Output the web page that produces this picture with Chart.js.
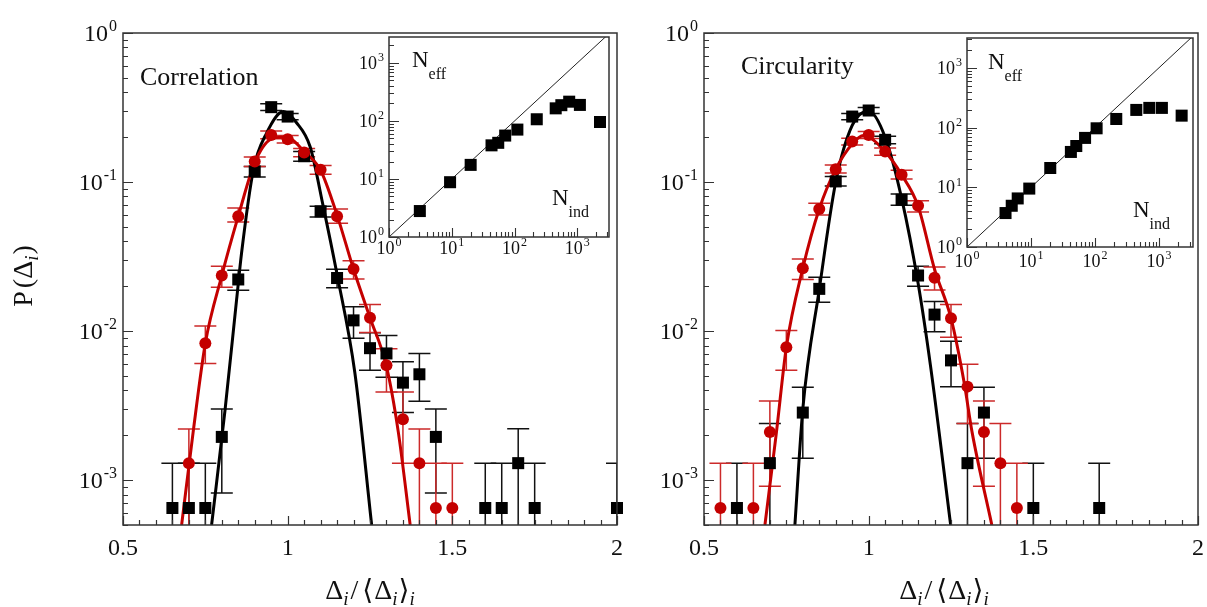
<!DOCTYPE html>
<html>
<head>
<meta charset="utf-8">
<title>P(Δi) distributions</title>
<script src="https://cdn.jsdelivr.net/npm/chart.js@4.4.1/dist/chart.umd.min.js"></script>
<style>
  body { margin: 0; background: #fff; }
  #wrap { position: relative; width: 1207px; height: 607px; overflow: hidden; }
  #wrap canvas { position: absolute; top: 0; }
</style>
</head>
<body>
<div id="wrap">
  <canvas id="mainLeft" width="640" height="607" style="left:0"></canvas>
  <canvas id="mainRight" width="567" height="607" style="left:640px"></canvas>
  <canvas id="insetLeft" width="280" height="290" style="left:340px"></canvas>
  <canvas id="insetRight" width="287" height="300" style="left:920px"></canvas>
</div>
<script>
// ---- values ----

// Correlation panel, black squares
const corrBlackX  = [0.65, 0.70, 0.75, 0.80, 0.85, 0.90, 0.95, 1.00, 1.05, 1.10, 1.15, 1.20, 1.25, 1.30, 1.35, 1.40, 1.45, 1.60, 1.65, 1.70, 1.75, 2.00];
const corrBlackY  = [0.00065, 0.00065, 0.00065, 0.00195, 0.0222, 0.118, 0.318, 0.275, 0.149, 0.0636, 0.0227, 0.0118, 0.00768, 0.00708, 0.00451, 0.00513, 0.00195, 0.00065, 0.00065, 0.0013, 0.00065, 0.00065];
const corrBlackLo = [0, 0, 0, 0.00082, 0.0188, 0.108, 0.302, 0.262, 0.138, 0.0583, 0.0195, 0.00896, 0.00547, 0.0049, 0.00284, 0.00338, 0.00082, 0, 0, 0.00038, 0, 0];
const corrBlackHi = [0.0013, 0.0013, 0.0013, 0.0030, 0.0256, 0.127, 0.335, 0.288, 0.16, 0.0687, 0.026, 0.01455, 0.00975, 0.00934, 0.00622, 0.00708, 0.0030, 0.0013, 0.0013, 0.00221, 0.0013, 0.0013];

// Correlation panel, red circles
const corrRedX  = [0.70, 0.75, 0.80, 0.85, 0.90, 0.95, 1.00, 1.05, 1.10, 1.15, 1.20, 1.25, 1.30, 1.35, 1.40, 1.45, 1.50];
const corrRedY  = [0.0013, 0.0083, 0.0236, 0.059, 0.1375, 0.207, 0.194, 0.158, 0.121, 0.059, 0.0261, 0.0123, 0.0059, 0.00256, 0.0013, 0.00065, 0.00065];
const corrRedLo = [0.00038, 0.00607, 0.0197, 0.054, 0.127, 0.195, 0.183, 0.148, 0.113, 0.053, 0.0224, 0.0098, 0.0039, 0.0013, 0.00038, 0, 0];
const corrRedHi = [0.0022, 0.0108, 0.0272, 0.067, 0.147, 0.22, 0.205, 0.168, 0.129, 0.066, 0.0297, 0.0151, 0.0076, 0.0039, 0.0022, 0.0013, 0.0013];

// Correlation panel, fitted curves (points picked along the drawn lines)
const corrBlackFitX = [0.769, 0.81, 0.845, 0.86, 0.896, 0.936, 0.987, 1.027, 1.068, 1.108, 1.149, 1.204, 1.255];
const corrBlackFitY = [0.0005, 0.00298, 0.0163, 0.0334, 0.121, 0.213, 0.297, 0.25, 0.173, 0.0687, 0.0246, 0.00526, 0.0005];
const corrRedFitX = [0.678, 0.713, 0.75, 0.80, 0.85, 0.90, 0.95, 0.98, 1.01, 1.05, 1.10, 1.15, 1.20, 1.25, 1.30, 1.336, 1.372];
const corrRedFitY = [0.0005, 0.0021, 0.0083, 0.0236, 0.059, 0.135, 0.195, 0.20, 0.195, 0.16, 0.12, 0.06, 0.026, 0.0123, 0.0058, 0.0021, 0.0005];

// Circularity panel, black squares
const circBlackX  = [0.60, 0.70, 0.80, 0.85, 0.90, 0.95, 1.00, 1.05, 1.10, 1.15, 1.20, 1.25, 1.30, 1.35, 1.50, 1.70];
const circBlackY  = [0.00065, 0.0013, 0.00284, 0.0192, 0.101, 0.275, 0.302, 0.192, 0.0761, 0.0236, 0.0129, 0.00636, 0.0013, 0.00284, 0.00065, 0.00065];
const circBlackLo = [0, 0.00038, 0.0014, 0.0156, 0.094, 0.262, 0.288, 0.181, 0.070, 0.020, 0.0099, 0.00424, 0.00038, 0.0014, 0, 0];
const circBlackHi = [0.0013, 0.0024, 0.0042, 0.023, 0.109, 0.288, 0.316, 0.203, 0.083, 0.0272, 0.0158, 0.00855, 0.0024, 0.0042, 0.0013, 0.0013];

// Circularity panel, red circles
const circRedX  = [0.55, 0.65, 0.70, 0.75, 0.80, 0.85, 0.90, 0.95, 1.00, 1.05, 1.10, 1.15, 1.20, 1.25, 1.30, 1.35, 1.40, 1.45];
const circRedY  = [0.00065, 0.00065, 0.0021, 0.0078, 0.0264, 0.066, 0.122, 0.187, 0.207, 0.160, 0.112, 0.0694, 0.0228, 0.0122, 0.00424, 0.0021, 0.0013, 0.00065];
const circRedLo = [0, 0, 0.00091, 0.00547, 0.0222, 0.060, 0.115, 0.177, 0.196, 0.151, 0.105, 0.063, 0.0189, 0.0091, 0.0024, 0.00091, 0.00038, 0];
const circRedHi = [0.0013, 0.0013, 0.0034, 0.0101, 0.0305, 0.072, 0.13, 0.197, 0.218, 0.169, 0.12, 0.075, 0.0269, 0.0151, 0.006, 0.0034, 0.0024, 0.0013];

// Circularity panel, fitted curves
const circBlackFitX = [0.776, 0.80, 0.85, 0.90, 0.95, 1.00, 1.05, 1.10, 1.15, 1.188, 1.249];
const circBlackFitY = [0.0005, 0.003, 0.019, 0.10, 0.24, 0.30, 0.20, 0.078, 0.021, 0.0058, 0.0005];
const circRedFitX = [0.685, 0.72, 0.75, 0.80, 0.85, 0.90, 0.95, 0.984, 1.05, 1.10, 1.15, 1.20, 1.25, 1.29, 1.314, 1.374];
const circRedFitY = [0.0005, 0.0021, 0.0078, 0.0264, 0.066, 0.122, 0.18, 0.205, 0.16, 0.112, 0.069, 0.026, 0.0122, 0.0045, 0.0021, 0.0005];

// Insets: N_eff against N_ind
const corrNind = [3.1, 9.4, 20, 43, 55, 71, 111, 226, 453, 557, 743, 1100, 2300];
const corrNeff = [2.8, 8.8, 17.5, 38, 42, 56, 71, 107, 165, 187, 215, 189, 96];
const circNind = [4.0, 5.0, 6.2, 9.4, 20, 42, 51, 70, 106, 215, 442, 706, 1110, 2260];
const circNeff = [3.7, 4.9, 6.5, 9.5, 21, 39, 49, 67, 97, 139, 197, 213, 213, 158];
const diagX = [1, 4000];
const diagY = [1, 4000];

// Axis ticks
const xTickValues = [0.5, 1, 1.5, 2];
const xTickLabels = ['0.5', '1', '1.5', '2'];
const xMinorStep = 0.05;

const RED = '#c40000';
const FONT = '"Liberation Serif", "DejaVu Serif", "DejaVu Sans", serif';

function pts(xs, ys) {
    return xs.map((v, i) => ({ x: v, y: ys[i] }));
}

// log ticks: 1..9 x 10^d inside [min, max]
function logTicks(min, max) {
    const out = [];
    for (let d = Math.floor(Math.log10(min)); d <= Math.ceil(Math.log10(max)); d++) {
        for (let m = 1; m <= 9; m++) {
            const v = m * Math.pow(10, d);
            if (v >= min * 0.999 && v <= max * 1.001) out.push({ v: v, major: m === 1, exp: d });
        }
    }
    return out;
}

// "10" with a raised exponent
function drawPow(ctx, exp, x, y, size, align) {
    const ss = Math.round(size * 0.68);
    ctx.font = size + 'px ' + FONT;
    const wb = ctx.measureText('10').width;
    ctx.font = ss + 'px ' + FONT;
    const we = ctx.measureText(String(exp)).width;
    const total = wb + 1 + we;
    const x0 = align === 'right' ? x - total : x - total / 2;
    ctx.textAlign = 'left';
    ctx.textBaseline = 'alphabetic';
    ctx.font = size + 'px ' + FONT;
    ctx.fillText('10', x0, y);
    ctx.font = ss + 'px ' + FONT;
    ctx.fillText(String(exp), x0 + wb + 1, y - size * 0.42);
}

// text made of pieces (subscripts, italics), centred on x
function drawRich(ctx, parts, x, y) {
    let w = 0;
    parts.forEach(p => {
        ctx.font = (p.italic ? 'italic ' : '') + p.size + 'px ' + FONT;
        p.w = ctx.measureText(p.t).width;
        w += p.w + (p.gap || 0);
    });
    let cx = x - w / 2;
    ctx.textAlign = 'left';
    ctx.textBaseline = 'alphabetic';
    parts.forEach(p => {
        ctx.font = (p.italic ? 'italic ' : '') + p.size + 'px ' + FONT;
        ctx.fillText(p.t, cx, y + (p.dy || 0));
        cx += p.w + (p.gap || 0);
    });
}

// error bars with caps, drawn under the markers
const errorBars = {
    id: 'errorBars',
    beforeDatasetsDraw(chart) {
        const { ctx, chartArea: a, scales: { x, y } } = chart;
        ctx.save();
        ctx.beginPath();
        ctx.rect(a.left, a.top, a.right - a.left, a.bottom - a.top);
        ctx.clip();
        const sets = chart.data.datasets.slice().reverse();
        sets.forEach(ds => {
            if (!ds.errLo) return;
            ctx.strokeStyle = ds.errColor;
            ctx.lineWidth = 1.5;
            ds.data.forEach((p, i) => {
                const px = x.getPixelForValue(p.x);
                const yHi = y.getPixelForValue(ds.errHi[i]);
                const hasLo = ds.errLo[i] > y.min;
                const yLo = hasLo ? y.getPixelForValue(ds.errLo[i]) : a.bottom + 2;
                ctx.beginPath();
                ctx.moveTo(px, yHi); ctx.lineTo(px, yLo);
                ctx.moveTo(px - 11, yHi); ctx.lineTo(px + 11, yHi);
                if (hasLo) { ctx.moveTo(px - 11, yLo); ctx.lineTo(px + 11, yLo); }
                ctx.stroke();
            });
        });
        ctx.restore();
    }
};

// frame, inward ticks, tick labels and titles of a main panel
const mainAxes = {
    id: 'mainAxes',
    afterDraw(chart, args, o) {
        const { ctx, chartArea: a, scales: { x, y } } = chart;
        ctx.save();
        ctx.strokeStyle = '#333';
        ctx.lineWidth = 1.5;
        ctx.strokeRect(a.left, a.top, a.right - a.left, a.bottom - a.top);
        ctx.lineWidth = 1.2;
        ctx.beginPath();
        const nx = Math.round((x.max - x.min) / xMinorStep);
        for (let i = 0; i <= nx; i++) {
            const v = x.min + i * xMinorStep;
            const px = Math.round(x.getPixelForValue(v)) + 0.5;
            const major = xTickValues.some(t => Math.abs(t - v) < 1e-6);
            ctx.moveTo(px, a.bottom);
            ctx.lineTo(px, a.bottom - (major ? 9 : 5));
        }
        logTicks(y.min, y.max).forEach(t => {
            const py = Math.round(y.getPixelForValue(t.v)) + 0.5;
            ctx.moveTo(a.left, py);
            ctx.lineTo(a.left + (t.major ? 10 : 5), py);
        });
        ctx.stroke();

        ctx.fillStyle = '#111';
        ctx.textAlign = 'center';
        ctx.textBaseline = 'alphabetic';
        ctx.font = '24px ' + FONT;
        xTickValues.forEach((v, i) => {
            ctx.fillText(xTickLabels[i], x.getPixelForValue(v), a.bottom + 30);
        });
        logTicks(y.min, y.max).filter(t => t.major).forEach(t => {
            drawPow(ctx, t.exp, a.left - 6, y.getPixelForValue(t.v) + 8, 24, 'right');
        });

        // panel name
        ctx.textAlign = 'left';
        ctx.font = '26px ' + FONT;
        ctx.fillText(o.name, a.left + o.nameDx, a.top + o.nameDy);

        // x title
        drawRich(ctx, [
            { t: 'Δ', size: 28 },
            { t: 'i', size: 19, italic: true, dy: 6, gap: 2 },
            { t: '/', size: 28, gap: 4 },
            { t: '⟨', size: 28, gap: 1 },
            { t: 'Δ', size: 28 },
            { t: 'i', size: 19, italic: true, dy: 6, gap: 1 },
            { t: '⟩', size: 28 },
            { t: 'i', size: 19, italic: true, dy: 6 }
        ], (a.left + a.right) / 2 + o.xTitleShift, a.bottom + 74);

        // y title
        if (o.yTitle) {
            ctx.save();
            ctx.translate(32, (a.top + a.bottom) / 2 - 3);
            ctx.rotate(-Math.PI / 2);
            drawRich(ctx, [
                { t: 'P', size: 28, gap: 3 },
                { t: '(', size: 28 },
                { t: 'Δ', size: 28 },
                { t: 'i', size: 19, italic: true, dy: 6, gap: 1 },
                { t: ')', size: 28 }
            ], 0, 0);
            ctx.restore();
        }
        ctx.restore();
    }
};

// white background, frame, ticks and labels of an inset
const insetAxes = {
    id: 'insetAxes',
    beforeDraw(chart) {
        const { ctx, chartArea: a } = chart;
        ctx.save();
        ctx.fillStyle = '#fff';
        ctx.fillRect(a.left, a.top, a.right - a.left, a.bottom - a.top);
        ctx.restore();
    },
    afterDraw(chart, args, o) {
        const { ctx, chartArea: a, scales: { x, y } } = chart;
        ctx.save();
        ctx.strokeStyle = '#333';
        ctx.lineWidth = 1.5;
        ctx.strokeRect(a.left, a.top, a.right - a.left, a.bottom - a.top);
        ctx.lineWidth = 1.1;
        ctx.beginPath();
        logTicks(x.min, x.max).forEach(t => {
            const px = Math.round(x.getPixelForValue(t.v)) + 0.5;
            ctx.moveTo(px, a.bottom);
            ctx.lineTo(px, a.bottom - (t.major ? 9 : 5));
        });
        logTicks(y.min, y.max).forEach(t => {
            const py = Math.round(y.getPixelForValue(t.v)) + 0.5;
            ctx.moveTo(a.left, py);
            ctx.lineTo(a.left + (t.major ? 10 : 5), py);
        });
        ctx.stroke();

        ctx.fillStyle = '#111';
        logTicks(x.min, x.max).filter(t => t.major).forEach(t => {
            drawPow(ctx, t.exp, x.getPixelForValue(t.v), a.bottom + o.xLabelDy, 18, 'center');
        });
        logTicks(y.min, y.max).filter(t => t.major).forEach(t => {
            drawPow(ctx, t.exp, a.left - 5, y.getPixelForValue(t.v) + 6, 18, 'right');
        });

        ctx.textAlign = 'left';
        ctx.textBaseline = 'alphabetic';
        ctx.font = '23px ' + FONT;
        ctx.fillText('N', a.left + o.effDx, a.top + o.effDy);
        const wN = ctx.measureText('N').width;
        ctx.font = '16px ' + FONT;
        ctx.fillText('eff', a.left + o.effDx + wN, a.top + o.effDy + 12);
        ctx.font = '23px ' + FONT;
        ctx.fillText('N', a.right - o.indDx, a.bottom - o.indDy);
        ctx.font = '16px ' + FONT;
        ctx.fillText('ind', a.right - o.indDx + wN, a.bottom - o.indDy + 12);
        ctx.restore();
    }
};

function makeMain(id, d, pad, panel) {
    return new Chart(document.getElementById(id), {
        type: 'scatter',
        data: {
            datasets: [
                {
                    label: 'red', data: pts(d.rx, d.ry), pointStyle: 'circle', pointRadius: 6,
                    backgroundColor: RED, borderColor: RED, borderWidth: 0, clip: false,
                    errLo: d.rlo, errHi: d.rhi, errColor: '#cc2a2a', order: 0
                },
                {
                    label: 'black', data: pts(d.bx, d.by), pointStyle: 'rect', pointRadius: 8.5,
                    backgroundColor: '#000', borderColor: '#000', borderWidth: 0, clip: false,
                    errLo: d.blo, errHi: d.bhi, errColor: '#111', order: 1
                },
                {
                    label: 'red fit', data: pts(d.rfx, d.rfy), showLine: true, pointRadius: 0,
                    borderColor: RED, borderWidth: 3, cubicInterpolationMode: 'monotone', order: 2
                },
                {
                    label: 'black fit', data: pts(d.bfx, d.bfy), showLine: true, pointRadius: 0,
                    borderColor: '#000', borderWidth: 3, cubicInterpolationMode: 'monotone', order: 3
                }
            ]
        },
        options: {
            responsive: false,
            animation: false,
            devicePixelRatio: 1,
            events: [],
            layout: { padding: pad },
            scales: {
                x: { type: 'linear', min: 0.5, max: 2, display: false },
                y: { type: 'logarithmic', min: 0.0005, max: 1, display: false }
            },
            plugins: {
                legend: { display: false },
                tooltip: { enabled: false },
                mainAxes: panel
            }
        },
        plugins: [errorBars, mainAxes]
    });
}

function makeInset(id, nx, ny, pad, xMax, yMax, labels) {
    return new Chart(document.getElementById(id), {
        type: 'scatter',
        data: {
            datasets: [
                {
                    label: 'N_eff', data: pts(nx, ny), pointStyle: 'rect', pointRadius: 8.5,
                    backgroundColor: '#000', borderWidth: 0, clip: false, order: 0
                },
                {
                    label: 'diagonal', data: pts(diagX, diagY), showLine: true, pointRadius: 0,
                    borderColor: '#222', borderWidth: 1, order: 1
                }
            ]
        },
        options: {
            responsive: false,
            animation: false,
            devicePixelRatio: 1,
            events: [],
            layout: { padding: pad },
            scales: {
                x: { type: 'logarithmic', min: 1, max: xMax, display: false },
                y: { type: 'logarithmic', min: 1, max: yMax, display: false }
            },
            plugins: {
                legend: { display: false },
                tooltip: { enabled: false },
                insetAxes: labels
            }
        },
        plugins: [insetAxes]
    });
}

makeMain('mainLeft', {
    bx: corrBlackX, by: corrBlackY, blo: corrBlackLo, bhi: corrBlackHi,
    rx: corrRedX, ry: corrRedY, rlo: corrRedLo, rhi: corrRedHi,
    bfx: corrBlackFitX, bfy: corrBlackFitY, rfx: corrRedFitX, rfy: corrRedFitY
}, { left: 123, top: 33, right: 23, bottom: 82 },
   { name: 'Correlation', nameDx: 17, nameDy: 52, xTitleShift: 0, yTitle: true });

makeMain('mainRight', {
    bx: circBlackX, by: circBlackY, blo: circBlackLo, bhi: circBlackHi,
    rx: circRedX, ry: circRedY, rlo: circRedLo, rhi: circRedHi,
    bfx: circBlackFitX, bfy: circBlackFitY, rfx: circRedFitX, rfy: circRedFitY
}, { left: 64, top: 33, right: 9, bottom: 82 },
   { name: 'Circularity', nameDx: 37, nameDy: 41, xTitleShift: -7, yTitle: false });

makeInset('insetLeft', corrNind, corrNeff, { left: 49, top: 37, right: 11, bottom: 53 }, 3200, 2800,
    { xLabelDy: 17, effDx: 23, effDy: 30, indDx: 57, indDy: 32 });

makeInset('insetRight', circNind, circNeff, { left: 47, top: 38, right: 14, bottom: 53 }, 3400, 3150,
    { xLabelDy: 20, effDx: 21, effDy: 31, indDx: 60, indDy: 30 });
</script>
</body>
</html>
